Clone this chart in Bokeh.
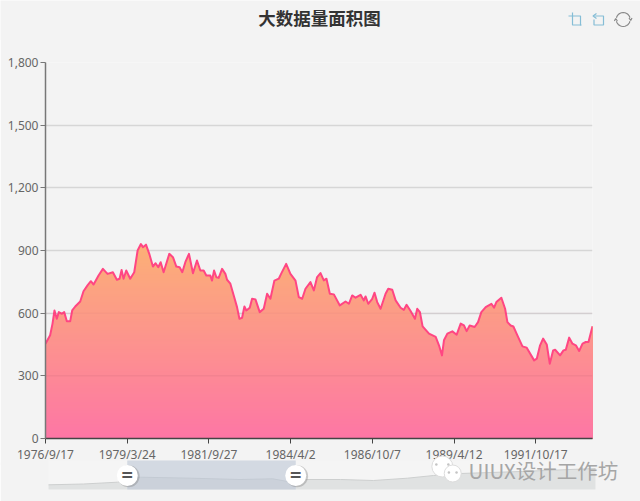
import numpy as np
import pandas as pd
from bokeh.plotting import figure
from bokeh.layouts import column
from bokeh.embed import file_html
from bokeh.resources import INLINE
from bokeh.core.properties import value
from bokeh.models import FixedTicker, NumeralTickFormatter, Label, Span

TITLE = "大数据量面积图"
WATERMARK = "UIUX设计工作坊"
START = "1976/9/17"
tick_labels = ["1976/9/17", "1979/3/24", "1981/9/27", "1984/4/2",
               "1986/10/7", "1989/4/12", "1991/10/17"]
y_ticks = [0, 300, 600, 900, 1200, 1500, 1800]

# days since START
days = [0,52,79,101,127,150,184,210,240,277,300,334,390,427,472,510,540,596,645,697,
        757,802,832,855,877,907,952,997,1035,1072,1095,1129,1166,1207,1237,1267,1294,1327,
        1391,1432,1470,1507,1537,1571,1612,1657,1702,1740,1777,1807,1852,1871,1894,1920,
        1946,1984,2021,2040,2077,2115,2152,2179,2209,2235,2257,2295,2321,2359,2407,2452,
        2490,2527,2572,2621,2647,2704,2752,2809,2846,2884,2921,2977,3015,3052,3090,3127,
        3157,3195,3240,3307,3371,3409,3446,3484,3540,3577,3596,3626,3671,3697,3727,3765,
        3821,3851,3896,3934,3990,4027,4057,4102,4151,4177,4207,4237,4309,4384,4421,4455,
        4477,4515,4571,4620,4665,4702,4732,4766,4822,4860,4897,4946,5010,5040,5066,5122,
        5164,5190,5227,5257,5302,5359,5407,5490,5520,5557,5591,5632,5666,5704,5726,5782,
        5820,5846,5884,5921,5959,5996,6034,6071,6101,6146]
vals = [454,494,550,613,573,605,597,605,561,561,613,632,656,705,733,753,737,780,812,788,
        796,760,765,807,765,804,765,796,900,931,916,928,884,823,839,820,844,796,
        884,868,823,820,796,844,884,791,852,804,804,780,780,756,804,772,
        769,812,788,760,741,685,629,573,578,632,613,626,669,666,605,621,
        693,669,756,765,788,836,788,756,677,669,717,749,709,773,792,757,
        765,693,690,637,656,645,685,674,688,661,680,645,669,698,653,621,
        693,717,712,661,626,616,640,610,573,621,605,537,502,486,446,398,
        470,502,513,497,550,541,514,541,534,557,605,629,645,626,653,674,
        621,557,541,536,494,441,435,374,382,446,478,450,358,422,425,398,
        422,425,483,454,446,419,454,462,462,537]

# data-zoom overview: percent of full range, level
shadow_pos = [0,6.4,12.6,16.8,26,35,41,43.7,47.3,53.4,59.4,65.6,70.4,75.3,86.3,100]
shadow_lvl = [4.7,5.5,7.3,12.3,11.3,10,10.7,8,10,10,9,11.3,14,16,18,21]
handles = [14.4, 45.2]

BG = "#f3f3f3"
TOP = np.array([252, 176, 118])
BOT = np.array([253, 118, 165])

t0 = pd.Timestamp(START)
tick_days = [(pd.Timestamp(s) - t0).days for s in tick_labels]

d = np.array(days, float)
v = np.array(vals, float)

# ---- header strip: title and toolbox marks
head = figure(width=640, height=40, x_range=(0, 640), y_range=(40, 0),
              output_backend="svg", toolbar_location=None, tools="", frame_align=False,
              min_border_left=0, min_border_right=0, min_border_top=0, min_border_bottom=0)
head.axis.visible = False
head.grid.visible = False
head.outline_line_color = None
head.background_fill_color = BG
head.border_fill_color = BG
head.text([319], [16.5], text=[TITLE], text_align="center", text_baseline="middle",
          text_font=value("Noto Sans CJK SC"), text_font_style="bold",
          text_font_size="17.5px", text_color="#333333")
BLUE = "#85bdd6"
blue_x = [[568, 580, 580], [572, 572, 581], [596, 592.5, 596],
          [593, 603, 603, 593.5, 593.5]]
blue_y = [[15.5, 15.5, 25], [12, 24.5, 24.5], [13, 15.5, 18],
          [15.5, 15.5, 24.5, 24.5, 19]]
head.multi_line(blue_x, blue_y, line_color=BLUE, line_width=1.2)
ang = np.radians(np.arange(15, 166, 15))
head.multi_line([list(622.7 + 7 * np.cos(ang)), list(622.7 - 7 * np.cos(ang))],
                [list(19 - 7 * np.sin(ang)), list(19 + 7 * np.sin(ang))],
                line_color="#888888", line_width=1.2)
head.multi_line([[628.5, 630.2, 631.5], [613.9, 615.2, 616.9]],
                [[17.5, 20, 17.5], [20.5, 18, 20.5]],
                line_color="#888888", line_width=1.2)

# ---- main chart (one pixel tucked under the header)
p = figure(width=640, height=426, x_range=(0, days[-1]), y_range=(0, 1800),
           output_backend="svg", toolbar_location=None, tools="", frame_align=False,
           min_border_left=45, min_border_right=48, min_border_top=23, min_border_bottom=27)
p.margin = (-1, 0, 0, 0)
p.background_fill_color = BG
p.border_fill_color = BG
p.outline_line_color = None
p.xgrid.visible = False
p.ygrid.ticker = FixedTicker(ticks=y_ticks)
p.ygrid.grid_line_color = "#d6d6d6"
p.ygrid.grid_line_width = 1.5

p.yaxis.ticker = FixedTicker(ticks=y_ticks)
p.yaxis.formatter = NumeralTickFormatter(format="0,0")
p.xaxis.ticker = FixedTicker(ticks=tick_days)
p.xaxis.major_label_overrides = dict(zip(tick_days, tick_labels))
for ax, col in ((p.xaxis[0], "#444444"), (p.yaxis[0], "#777777")):
    ax.axis_line_color = col
    ax.axis_line_width = 1.5
    ax.major_tick_line_color = col
    ax.major_tick_line_width = 1
    ax.major_tick_out = 5
    ax.major_tick_in = 0
    ax.minor_tick_line_color = None
    ax.major_label_text_color = "#666666"
    ax.major_label_text_font = "Noto Sans"
    ax.major_label_text_font_size = "12px"
    ax.major_label_standoff = 2

# vertical gradient of the area, painted from the tallest band down
n_bands = 70
top = v.max()
for i in range(n_bands, 0, -1):
    h = top * i / n_bands
    idx = np.where((v[:-1] - h) * (v[1:] - h) < 0)[0]
    cross = d[idx] + (h - v[idx]) / (v[idx + 1] - v[idx]) * (d[idx + 1] - d[idx])
    xs = np.sort(np.concatenate([d, cross]))
    ys = np.minimum(np.interp(xs, d, v), h)
    f = 1 - (i - 0.5) / n_bands
    c = (TOP + (BOT - TOP) * f).round().astype(int)
    p.varea(xs, np.zeros_like(xs), ys, fill_color="#%02x%02x%02x" % tuple(c))

for level, alpha in ((300, 0.10), (600, 0.05)):
    p.add_layout(Span(location=level, dimension="width", line_color="#a04060",
                      line_alpha=alpha, line_width=1.5))

p.line(days, vals, line_color="#ff4683", line_width=2, line_join="round")

# ---- data-zoom strip, laid over the empty foot of the main chart
q = figure(width=640, height=47, x_range=(-48 / 5.47, 592 / 5.47), y_range=(-12, 35),
           output_backend="svg", toolbar_location=None, tools="", frame_align=False,
           min_border_left=0, min_border_right=0, min_border_top=0, min_border_bottom=0)
q.margin = (-11, 0, 0, 0)
q.axis.visible = False
q.grid.visible = False
q.outline_line_color = None
q.background_fill_alpha = 0
q.border_fill_alpha = 0

q.quad(left=-48 / 5.47, right=592 / 5.47, bottom=-12, top=27, fill_color=BG, line_color=None)
q.quad(left=0, right=100, bottom=0, top=29, fill_color="#f5f5f5", line_color=None)
q.varea(shadow_pos, [0] * len(shadow_pos), shadow_lvl, fill_color="#e0e2e2")
q.line(shadow_pos, shadow_lvl, line_color="#cdcfcf", line_width=1)
q.quad(left=handles[0], right=handles[1], bottom=0, top=29,
       fill_color="#bcc6d6", fill_alpha=0.6, line_color=None)
q.scatter([h + 0.25 for h in handles], [13.2, 13.2], size=22, fill_color="#777777",
          fill_alpha=0.35, line_color=None)
q.scatter(handles, [14, 14], size=21, fill_color="#ffffff", line_color=None)
q.text(handles, [15, 15], text=["=", "="], text_align="center", text_baseline="middle",
       text_font=value("Noto Sans"), text_font_style="bold", text_font_size="20px",
       text_color="#555555")

# WeChat mark of the watermark
q.scatter([72, 73.9], [23, 16], size=[21, 17], fill_color="#ffffff", line_color="#dddddd",
          line_width=1)
q.scatter([70.9, 73.1, 73.2, 74.6], [25, 25, 17, 17], size=2.5, fill_color="#c4c4c4",
          line_color=None)
q.add_layout(Label(x=76.8, y=20, text=WATERMARK, text_baseline="middle",
                   text_font="Noto Sans CJK SC", text_font_size="20.5px",
                   text_color="#a6a6a6"))

page = column(head, p, q, spacing=0)
open("out.html", "w").write(file_html(page, INLINE))
